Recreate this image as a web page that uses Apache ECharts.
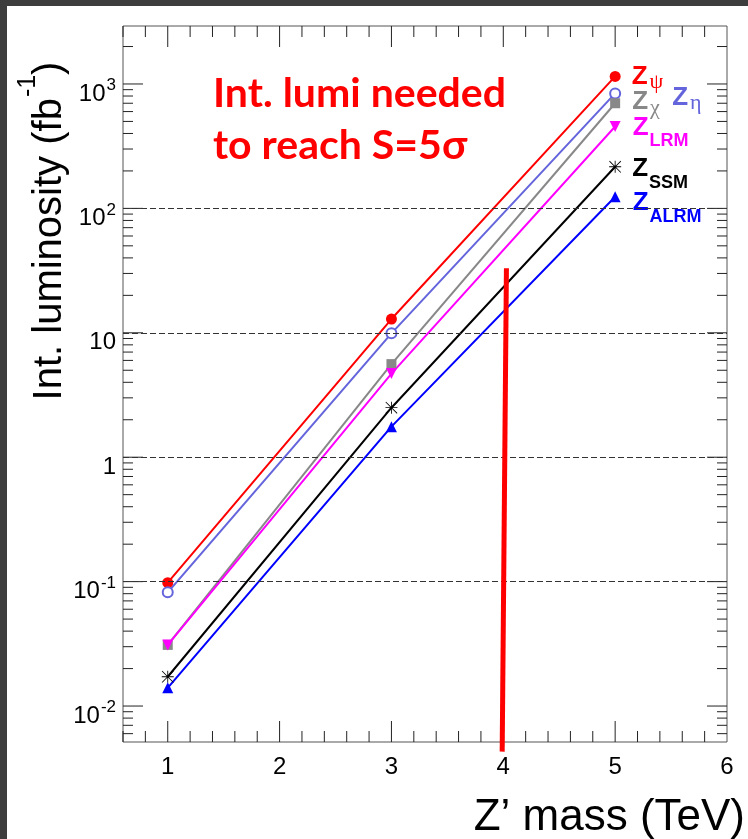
<!DOCTYPE html>
<html>
<head>
<meta charset="utf-8">
<script src="https://cdn.jsdelivr.net/npm/echarts@6/dist/echarts.min.js"></script>
<style>
html, body { margin: 0; padding: 0; background: #fff; }
#wrap { position: relative; width: 748px; height: 839px; }
#chart { width: 748px; height: 839px; }
.edge { position: absolute; background: #3d3d3d; }
</style>
</head>
<body>
<div id="wrap">
  <div id="chart"></div>
  <div class="edge" style="left:0;top:0;width:748px;height:6px"></div>
  <div class="edge" style="left:0;top:0;width:7px;height:839px"></div>
</div>
<script>
// Z' mass points (TeV)
const masses = [1, 3, 5]

// integrated luminosity needed for 5 sigma (fb^-1)
const lumiPsi = [0.098, 12.9, 1150]
const lumiEta = [0.082, 9.9, 840]
const lumiChi = [0.031, 5.6, 700]
const lumiLRM = [0.031, 4.7, 455]
const lumiSSM = [0.0172, 2.5, 216]
const lumiALRM = [0.014, 1.76, 124]

// hand drawn red marker near 4 TeV
const redLineMass = [3.99, 4.028]
const redLineLumi = [0.0043, 33]

// axis ticks
const xLabels = [1, 2, 3, 4, 5, 6]
const yDecades = [-2, -1, 0, 1, 2, 3]
const gridDecades = [-1, 0, 1, 2]

const xMin = 0.6
const xMax = 6
const yMin = Math.log10(0.00514)
const yMax = Math.log10(2924)

const FONT = 'Liberation Sans'

const chart = echarts.init(document.getElementById('chart'))

// [axis (0 = x, 1 = y), value, length in px]
const tickItems = []
for (let k = 3; k < 30; k++) {
  tickItems.push([0, k / 5, k % 5 === 0 ? 21 : 11])
}
for (let d = -3; d <= 3; d++) {
  for (let m = 1; m <= 9; m++) {
    const v = d + Math.log10(m)
    if (v > yMin && v < yMax) tickItems.push([1, v, m === 1 ? 20 : 10])
  }
}

const asterisk = 'path://M9.3,0L10.7,0L10.7,20L9.3,20Z M0,9.3L20,9.3L20,10.7L0,10.7Z M0,1L1,0L20,19L19,20Z M19,0L20,1L1,20L0,19Z'

const labelRich = {
  z: { fontSize: 26, fontWeight: 'bold', lineHeight: 28, verticalAlign: 'top', fontFamily: FONT },
  sub: { fontSize: 18, fontWeight: 'bold', lineHeight: 18, padding: [18, 0, 0, 1], verticalAlign: 'top', fontFamily: FONT },
  gk: { fontSize: 22, lineHeight: 22, padding: [8, 0, 0, 2], verticalAlign: 'top', fontFamily: 'Liberation Serif' }
}

function makeSeries (name, values, color, symbol, size, labelText, distance, dy, extra) {
  const data = masses.map((m, i) => {
    const point = [m, Math.log10(values[i])]
    if (i !== masses.length - 1 || !labelText) return point
    return {
      value: point,
      label: {
        show: true,
        position: 'right',
        distance: distance,
        offset: [0, dy],
        formatter: labelText,
        color: color,
        rich: labelRich
      }
    }
  })
  return Object.assign({
    name: name,
    type: 'line',
    data: data,
    symbol: symbol,
    symbolSize: size,
    showSymbol: true,
    lineStyle: { color: color, width: 2 },
    itemStyle: { color: color },
    label: { show: false },
    z: 3
  }, extra || {})
}

const option = {
  animation: false,
  backgroundColor: '#ffffff',
  title: {
    text: 'Int. lumi needed\nto reach S=5σ',
    left: 208,
    top: 63,
    textStyle: {
      color: '#ff0000',
      fontSize: 41,
      fontWeight: 'bold',
      fontFamily: 'Lato',
      lineHeight: 52
    }
  },
  grid: {
    left: 123,
    right: 21,
    top: 26,
    bottom: 97,
    show: true,
    borderColor: '#555',
    borderWidth: 1,
    outerBoundsMode: 'none'
  },
  xAxis: {
    type: 'value',
    min: xMin,
    max: xMax,
    axisLine: { show: false },
    axisTick: { show: false },
    splitLine: { show: false },
    axisLabel: {
      customValues: xLabels,
      color: '#000',
      fontSize: 24,
      fontFamily: FONT,
      margin: 13
    }
  },
  yAxis: {
    type: 'value',
    min: yMin,
    max: yMax,
    axisLine: { show: false },
    axisTick: { show: false },
    splitLine: { show: false },
    axisLabel: {
      customValues: yDecades,
      margin: 7,
      color: '#000',
      formatter (v) {
        const n = Math.round(v)
        if (n === 0) return '{b|1}'
        if (n === 1) return '{b|10}'
        return '{b|10}{s|' + n + '}'
      },
      rich: {
        b: { fontSize: 24, lineHeight: 24, padding: [10, 0, 0, 0], verticalAlign: 'top', fontFamily: FONT, color: '#000' },
        s: { fontSize: 17, lineHeight: 17, padding: [5, 0, 0, 1], verticalAlign: 'top', fontFamily: FONT, color: '#000' }
      }
    }
  },
  graphic: [
    {
      type: 'text',
      x: 42,
      y: 231,
      rotation: Math.PI / 2,
      style: {
        text: '{m|Int. luminosity (fb}{s|-1}{m|)}',
        align: 'center',
        verticalAlign: 'middle',
        fill: '#000',
        rich: {
          m: { fontSize: 40, lineHeight: 56, verticalAlign: 'bottom', fontFamily: FONT, fill: '#000' },
          s: { fontSize: 25, lineHeight: 25, padding: [2, 0, 0, 1], verticalAlign: 'top', fontFamily: FONT, fill: '#000' }
        }
      }
    },
    {
      type: 'text',
      x: 745,
      y: 818,
      style: {
        text: 'Z’ mass (TeV)',
        align: 'right',
        verticalAlign: 'middle',
        fontSize: 44,
        fontFamily: FONT,
        fill: '#000'
      }
    }
  ],
  series: [
    {
      name: 'frame ticks',
      type: 'custom',
      silent: true,
      clip: false,
      z: 1,
      data: tickItems,
      renderItem (params, api) {
        const isX = api.value(0) === 0
        const v = api.value(1)
        const len = api.value(2)
        const style = { stroke: '#222', lineWidth: 1 }
        if (isX) {
          const b = api.coord([v, yMin])
          const t = api.coord([v, yMax])
          return {
            type: 'group',
            children: [
              { type: 'line', shape: { x1: b[0], y1: b[1], x2: b[0], y2: b[1] - len }, style: style },
              { type: 'line', shape: { x1: t[0], y1: t[1], x2: t[0], y2: t[1] + len }, style: style }
            ]
          }
        }
        const l = api.coord([xMin, v])
        const r = api.coord([xMax, v])
        return {
          type: 'group',
          children: [
            { type: 'line', shape: { x1: l[0], y1: l[1], x2: l[0] + len, y2: l[1] }, style: style },
            { type: 'line', shape: { x1: r[0], y1: r[1], x2: r[0] - len, y2: r[1] }, style: style }
          ]
        }
      },
      markLine: {
        silent: true,
        symbol: 'none',
        label: { show: false },
        lineStyle: { type: [6, 3], color: '#333', width: 1 },
        data: gridDecades.map(v => ({ yAxis: v }))
      }
    },
    makeSeries('Z_psi', lumiPsi, '#ff0000', 'circle', 11, '{z|Z}{gk|ψ}', 11, 1),
    makeSeries('Z_eta', lumiEta, '#6464dc', 'emptyCircle', 10, '{z|Z}{gk|η}', 51, 5, { itemStyle: { color: '#6464dc', borderWidth: 1.5 } }),
    makeSeries('Z_chi', lumiChi, '#888888', 'rect', 10, '{z|Z}{gk|χ}', 12, 0),
    makeSeries('Z_LRM', lumiLRM, '#ff00ff', 'triangle', 11, '{z|Z}{sub|LRM}', 12, 2, { symbolRotate: 180 }),
    makeSeries('Z_SSM', lumiSSM, '#000000', asterisk, 12, '{z|Z}{sub|SSM}', 11, 3),
    makeSeries('Z_ALRM', lumiALRM, '#0000ff', 'triangle', 11, '{z|Z}{sub|ALRM}', 12, 7),
    {
      name: 'marker',
      type: 'line',
      data: redLineMass.map((m, i) => [m, Math.log10(redLineLumi[i])]),
      symbol: 'none',
      clip: false,
      lineStyle: { color: '#ff0000', width: 5 },
      z: 6
    }
  ]
}

chart.setOption(option)
</script>
</body>
</html>
